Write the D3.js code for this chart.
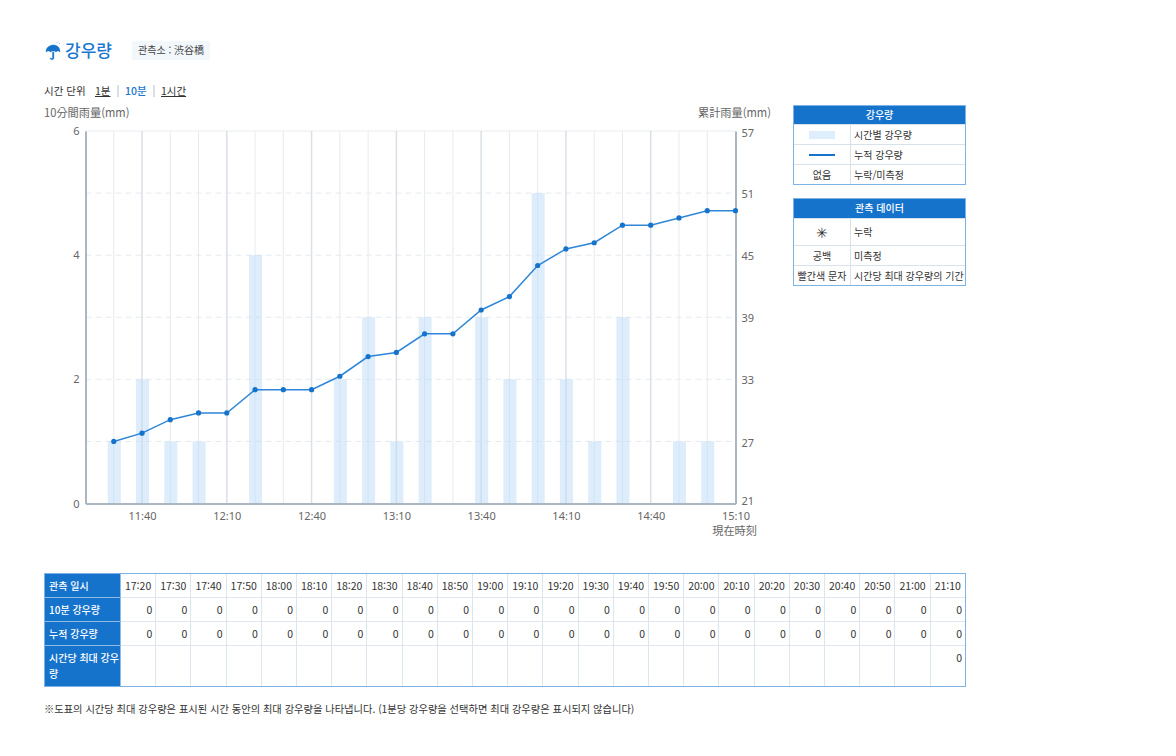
<!DOCTYPE html>
<html lang="ko">
<head>
<meta charset="utf-8">
<script src="https://cdn.jsdelivr.net/npm/d3@7.9.0/dist/d3.min.js"></script>
<style>
html, body { margin: 0; padding: 0; background: #fff; }
body { width: 1176px; height: 756px; position: relative; overflow: hidden; font-family: "Noto Sans CJK KR", "Noto Sans", sans-serif; color: #333; font-size: 10.5px; }
.abs { position: absolute; white-space: nowrap; }
#chart { position: absolute; left: 0; top: 0; }
table { border-collapse: collapse; table-layout: fixed; position: absolute; background: #fff; outline: 1px solid #7fb2e5; outline-offset: -1px; }
td, th { padding: 0; box-sizing: border-box; font-weight: 400; white-space: nowrap; overflow: hidden; }
th { background: #1673cc; color: #fff; font-weight: 500; font-size: 10px; }
.legend { left: 793px; width: 173px; }
.legend td { border: 1px solid #d8e2ec; text-align: center; font-size: 10px; line-height: 14px; padding-top: 1px; }
.legend td.txt { text-align: left; padding-left: 3px; }
.legend th { text-align: center; border: 0; line-height: 14px; padding-top: 1px; }
#data { left: 44px; top: 573px; width: 922px; }
#data td { border: 1px solid #dde5ee; text-align: right; padding-right: 3px; vertical-align: middle; line-height: 14px; }
#data td.time { text-align: center; padding: 0; }
#data tr:last-child td { vertical-align: top; padding-top: 5px; }
#data th { text-align: left; padding: 0 3px 0 4px; border: 1px solid #8fbce8; line-height: 16px; }
</style>
</head>
<body>
<svg id="chart" width="1176" height="756"></svg>
<script>
// chart values
const chartTimes = ["11:30","11:40","11:50","12:00","12:10","12:20","12:30","12:40","12:50","13:00","13:10","13:20","13:30","13:40","13:50","14:00","14:10","14:20","14:30","14:40","14:50","15:00","15:10"];
const rain10 = [1,2,1,1,0,4,0,0,2,3,1,3,0,3,2,5,2,1,3,0,1,1,0];
const rainTotal = [27,27.8,29.1,29.75,29.75,32,32,32,33.3,35.2,35.6,37.4,37.4,39.7,41,44,45.6,46.2,47.9,47.9,48.6,49.3,49.3];
const leftTicks = [0,2,4,6];
const rightTicks = [21,27,33,39,45,51,57];
const xLabels = ["11:40","12:10","12:40","13:10","13:40","14:10","14:40","15:10"];

// table values
const tableTimes = ["17:20","17:30","17:40","17:50","18:00","18:10","18:20","18:30","18:40","18:50","19:00","19:10","19:20","19:30","19:40","19:50","20:00","20:10","20:20","20:30","20:40","20:50","21:00","21:10"];
const table10 = tableTimes.map(() => 0);
const tableTotal = tableTimes.map(() => 0);
const tableMax = tableTimes.map((_, i) => i === tableTimes.length - 1 ? 0 : "");

const legend1 = [["bar", "시간별 강우량"], ["line", "누적 강우량"], ["없음", "누락/미측정"]];
const legend2 = [["✳", "누락"], ["공백", "미측정"], ["빨간색 문자", "시간당 최대 강우량의 기간"]];

const margin = { top: 131, right: 440.5, bottom: 252.5, left: 85.5 };
const svg = d3.select("#chart");
const parseTime = d3.timeParse("%H:%M");
const blue = "#1673cc";

const xScale = d3.scaleTime()
    .domain([parseTime("11:20"), parseTime("15:10")])
    .range([margin.left, 1176 - margin.right]);
const yLeft = d3.scaleLinear().domain([0, 6]).range([756 - margin.bottom, margin.top]);
const yRight = d3.scaleLinear().domain([21, 57]).range([756 - margin.bottom, margin.top]);

// horizontal grid, every 1mm
svg.append("g").selectAll("line")
    .data(d3.range(1, 6))
    .join("line")
    .attr("x1", margin.left).attr("x2", xScale.range()[1])
    .attr("y1", d => yLeft(d)).attr("y2", d => yLeft(d))
    .attr("stroke", "#e6eaee")
    .attr("stroke-dasharray", "6 4");
svg.append("line")
    .attr("x1", margin.left).attr("x2", xScale.range()[1])
    .attr("y1", margin.top).attr("y2", margin.top)
    .attr("stroke", "#e8ecf0");

// vertical grid, darker on labelled times
svg.append("g").selectAll("line")
    .data(chartTimes.slice(0, -1))
    .join("line")
    .attr("x1", d => xScale(parseTime(d))).attr("x2", d => xScale(parseTime(d)))
    .attr("y1", yLeft(6)).attr("y2", yLeft(0))
    .attr("stroke", d => xLabels.includes(d) ? "#dbe0e7" : "#e6eaef")
    .attr("stroke-width", d => xLabels.includes(d) ? 1.5 : 1);

// bars
svg.append("g").selectAll("rect")
    .data(chartTimes.map((t, i) => ({ t, v: rain10[i] })).filter(d => d.v > 0))
    .join("rect")
    .attr("x", d => xScale(parseTime(d.t)) - 6)
    .attr("width", 13)
    .attr("y", d => yLeft(d.v))
    .attr("height", d => yLeft(0) - yLeft(d.v))
    .attr("fill", "#bcdcf8")
    .attr("fill-opacity", 0.5);

// axes
const axisColor = "#aab6c2";
const bottomAxis = svg.append("g")
    .attr("transform", "translate(0," + yLeft(0) + ")")
    .call(d3.axisBottom(xScale).tickValues(xLabels.map(parseTime)).tickFormat(d3.timeFormat("%H:%M")).tickSize(0).tickPadding(9));
const leftAxis = svg.append("g")
    .attr("transform", "translate(" + margin.left + ",0)")
    .call(d3.axisLeft(yLeft).tickValues(leftTicks).tickFormat(d3.format("d")).tickSize(0).tickPadding(6));
const rightAxis = svg.append("g")
    .attr("transform", "translate(" + xScale.range()[1] + ",0)")
    .call(d3.axisRight(yRight).tickValues(rightTicks).tickSize(0).tickPadding(6));
rightAxis.selectAll("text").attr("dy", d => d === 57 ? "0.52em" : d === 21 ? "0.1em" : "0.42em");
[bottomAxis, leftAxis, rightAxis].forEach(a => {
    a.select("path").attr("stroke", axisColor).attr("stroke-width", 2);
    a.selectAll("text")
        .attr("fill", "#666")
        .style("font-family", '"Noto Sans", sans-serif')
        .style("font-size", "11px");
});

// cumulative line
const line = d3.line()
    .x((_, i) => xScale(parseTime(chartTimes[i])))
    .y(d => yRight(d));
svg.append("path")
    .datum(rainTotal)
    .attr("d", line)
    .attr("fill", "none")
    .attr("stroke", "#2f86d8")
    .attr("stroke-width", 1.5);
svg.append("g").selectAll("circle")
    .data(rainTotal)
    .join("circle")
    .attr("cx", (_, i) => xScale(parseTime(chartTimes[i])))
    .attr("cy", d => yRight(d))
    .attr("r", 2.6)
    .attr("fill", blue);

// axis titles
const jpFont = '"Noto Sans CJK JP", sans-serif';
function axisTitle(x, y, anchor, label) {
    svg.append("text")
        .attr("x", x).attr("y", y)
        .attr("text-anchor", anchor)
        .attr("fill", "#666")
        .style("font-family", jpFont)
        .style("font-size", "11.2px")
        .text(label);
}
axisTitle(44, 117, "start", "10分間雨量(mm)");
axisTitle(771, 117, "end", "累計雨量(mm)");
axisTitle(757, 535, "end", "現在時刻");

// heading
svg.append("path")
    .attr("transform", "translate(46,44)")
    .attr("d", "M0 8 C0 3 4 1 7.5 1 C11 1 14 3 14 8 C12.5 6.5 11.5 6.5 10 8 C9 6.5 6 6.5 4.5 8 C3 6.5 2 6.5 0 8 Z M6.5 8 h1.4 v6 c0 2.2 -3.6 2.4 -3.8 0 h1.2 c.2 1 1.2 .9 1.2 0 Z M13 0 l1 -1 M11 -1 l.5 -1")
    .attr("fill", blue)
    .attr("stroke", blue)
    .attr("stroke-width", 0.4);
svg.append("text")
    .attr("x", 65).attr("y", 56.5)
    .attr("fill", "#1a78d0")
    .style("font-size", "17px")
    .style("font-weight", 500)
    .text("강우량");
svg.append("rect")
    .attr("x", 132).attr("y", 41).attr("width", 78).attr("height", 19)
    .attr("rx", 2)
    .attr("fill", "#f2f7fc");
const station = svg.append("text")
    .attr("x", 138).attr("y", 54)
    .attr("fill", "#444")
    .style("font-size", "10px");
station.append("tspan").text("관측소 : ");
station.append("tspan").style("font-family", jpFont).text("渋谷橋");

// time unit selector
const unitRow = d3.select("body");
function addText(x, y, label, color, underline) {
    unitRow.append("div")
        .attr("class", "abs")
        .style("left", x + "px")
        .style("top", y + "px")
        .style("color", color || "#333")
        .style("font-size", "10.5px")
        .style("font-weight", color ? 500 : 400)
        .style("line-height", "14px")
        .style("text-decoration", underline ? "underline" : "none")
        .text(label);
}
addText(44, 84, "시간 단위");
addText(95, 84, "1분", null, true);
addText(125, 84, "10분", "#1a78d0");
addText(161, 84, "1시간", null, true);
svg.selectAll(".sep")
    .data([118, 154])
    .join("line")
    .attr("class", "sep")
    .attr("x1", d => d).attr("x2", d => d)
    .attr("y1", 85).attr("y2", 97)
    .attr("stroke", "#b8c0c8");

// legend tables
function drawLegend(top, title, rows, heights) {
    const table = d3.select("body").append("table")
        .attr("class", "legend")
        .style("top", top + "px");
    const cols = table.append("colgroup");
    cols.append("col").style("width", "57px");
    cols.append("col");
    table.append("tr").style("height", (heights[0] === 27 ? 20 : 19) + "px")
        .append("th").attr("colspan", 2).text(title);
    rows.forEach((r, i) => {
        const tr = table.append("tr").style("height", heights[i] + "px");
        const key = tr.append("td");
        if (r[0] === "bar") {
            key.append("div")
                .style("width", "26px").style("height", "8px").style("margin", "0 auto")
                .style("background", "#deeefc");
        } else if (r[0] === "line") {
            key.append("div")
                .style("width", "26px").style("height", "2px").style("margin", "0 auto")
                .style("background", blue);
        } else {
            key.text(r[0]);
            if (r[0] === "✳") key.style("font-size", "14px");
        }
        tr.append("td").attr("class", "txt").text(r[1]);
    });
}
drawLegend(105, "강우량", legend1, [20, 20, 20]);
drawLegend(198, "관측 데이터", legend2, [27, 20, 20]);

// data table
const table = d3.select("body").append("table").attr("id", "data");
const colgroup = table.append("colgroup");
colgroup.append("col").style("width", "76px");
tableTimes.forEach(() => colgroup.append("col"));
function addRow(label, values, height, cls) {
    const tr = table.append("tr").style("height", height + "px");
    const th = tr.append("th");
    label.forEach((l, i) => {
        if (i) th.append("br");
        th.append("span").text(l);
    });
    tr.selectAll("td")
        .data(values)
        .join("td")
        .attr("class", cls)
        .text(d => d);
}
addRow(["관측 일시"], tableTimes, 24, "time");
addRow(["10분 강우량"], table10, 24, "");
addRow(["누적 강우량"], tableTotal, 24, "");
addRow(["시간당 최대 강우", "량"], tableMax, 41, "");

d3.select("body").append("div")
    .attr("class", "abs")
    .style("left", "44px").style("top", "701px")
    .style("font-size", "10.25px").style("line-height", "15px")
    .text("※도표의 시간당 최대 강우량은 표시된 시간 동안의 최대 강우량을 나타냅니다. (1분당 강우량을 선택하면 최대 강우량은 표시되지 않습니다)");
</script>
</body>
</html>
